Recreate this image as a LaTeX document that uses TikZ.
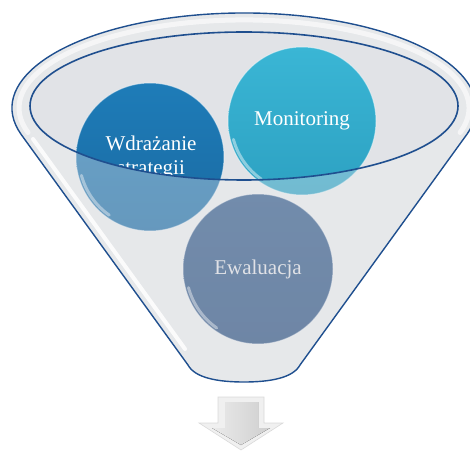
\documentclass[tikz,border=0pt]{standalone}
\usepackage{fontspec}
\setmainfont{Liberation Serif}
\definecolor{funnelblue}{HTML}{1F4F8F}
\definecolor{bodygray}{HTML}{EAEAEA}
\definecolor{mouthgray}{HTML}{E1E3E7}
\definecolor{fcover}{HTML}{E2E5EA}
\definecolor{wdrtop}{HTML}{1E7CB8}
\definecolor{wdrbot}{HTML}{1A6AA2}
\definecolor{montop}{HTML}{3AB6D5}
\definecolor{monbot}{HTML}{2DA1C2}
\definecolor{ewatop}{HTML}{2E5686}
\definecolor{ewabot}{HTML}{284C7C}
\definecolor{ewatext}{HTML}{DFE0E4}
% zarys lejka: luk gornej krawedzi, boki i zaokraglone dno
\newcommand{\funnelpath}{(21.2,320.5) arc[start angle=196.2,end angle=-16.2,x radius=232,y radius=95]
  -- (300,90) .. controls (293,77) and (270,73) .. (244,73)
  .. controls (218,73) and (195,77) .. (188,90) -- cycle}
\begin{document}
\begin{tikzpicture}[x=1pt,y=1pt,
    bubble/.style={circle,minimum size=148,inner sep=0pt,draw=white,draw opacity=.45,line width=1},
    bubbletext/.style={text=white,font=\fontsize{21}{24}\selectfont,align=center},
    gloss/.style={white,opacity=.45,line width=3,line cap=round},
    rimline/.style={draw=funnelblue,line width=1.4}]
	\useasboundingbox (0,0) rectangle (470,455);
	
	% Cialo lejka i wlot
	\fill[bodygray] \funnelpath;
	\fill[mouthgray] (244,349) ellipse[x radius=214,y radius=74];
	
	% Trzy kule
	\node[bubble,top color=wdrtop,bottom color=wdrbot] (wdr) at (150,298) {};
	\node[bubble,top color=montop,bottom color=monbot,bubbletext] (mon) at (302,334) {Monitoring};
	\node[bubble,minimum size=150,top color=ewatop,bottom color=ewabot,bubbletext,text=ewatext] (ewa) at (258,186) {Ewaluacja};
	\begin{scope}
		\clip (244,349) ellipse[x radius=214,y radius=74];
		\node[bubbletext] (wdrtext) at (151,298) {Wdrażanie\\strategii};
	\end{scope}
	\foreach \b/\r in {wdr/71,mon/71,ewa/72}
		\draw[gloss] ([shift={(195:\r)}]\b.center) arc[start angle=195,end angle=235,radius=\r];
	
	% Przednia scianka lejka (polprzezroczysta)
	\fill[fcover,opacity=.38,even odd rule] \funnelpath (244,349) ellipse[x radius=214,y radius=74];
	\draw[white,opacity=.6,line width=5,line cap=round] (28,322.5)
		arc[start angle=196.2,end angle=-16.2,x radius=225,y radius=88];
	\draw[white,opacity=.85,line width=4,line cap=round] (33,316) -- (185,106);
	
	% Krawedzie
	\draw[rimline] \funnelpath;
	\draw[rimline,line width=1.6] (244,349) ellipse[x radius=214,y radius=74];
	
	% Strzalka w dol
	\fill[fill=black!6,draw=black!15,line width=.6] (218,58) -- (264,58) -- (264,32) -- (283,32)
		-- (241,5) -- (199,32) -- (218,32) -- cycle;
	\fill[left color=black!8,right color=black!19] (225,53) -- (258,53) -- (258,27) -- (270,27)
		-- (241,10) -- (212,27) -- (225,27) -- cycle;
\end{tikzpicture}
\end{document}
